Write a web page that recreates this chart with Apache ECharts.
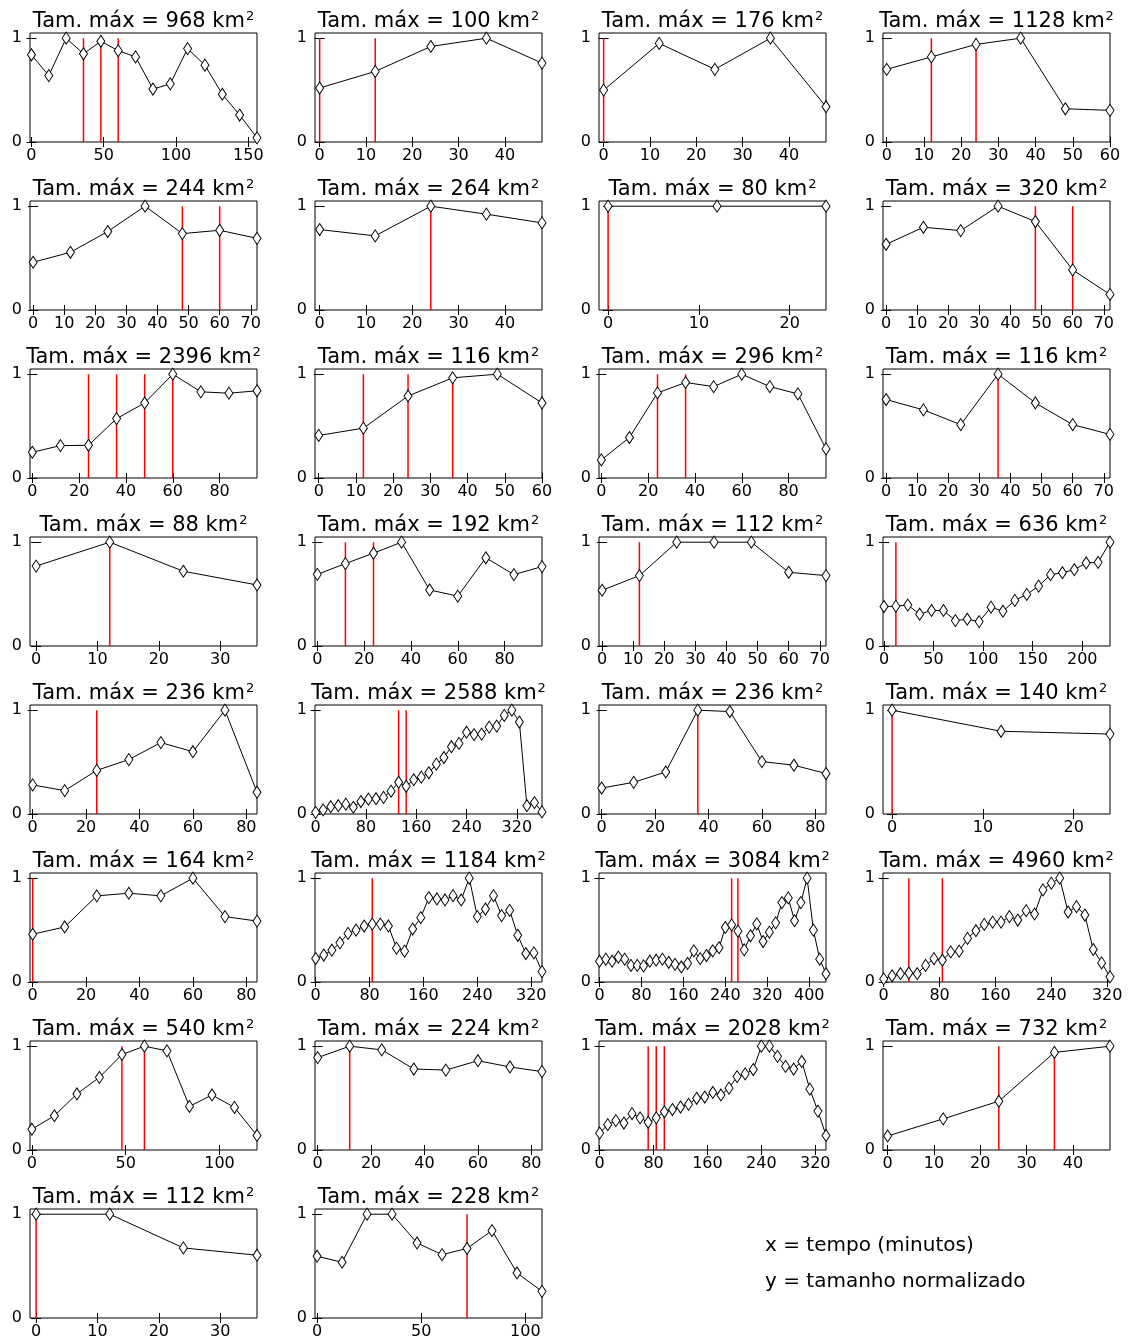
<!DOCTYPE html>
<html><head><meta charset="utf-8">
<script src="https://cdn.jsdelivr.net/npm/echarts@6/dist/echarts.min.js"></script>
<style>html,body{margin:0;padding:0;background:#fff}#c{width:1128px;height:1341px}</style>
</head><body><div id="c"></div>
<script>
// sampling step of the radar images (minutes)
const stepMinutes = 12;
// maximum area of each cluster (km²), panel order left-to-right, top-to-bottom
const areas = [968,100,176,1128, 244,264,80,320, 2396,116,296,116, 88,192,112,636,
               236,2588,236,140, 164,1184,3084,4960, 540,224,2028,732, 112,228];
// normalized size series
const s01 = [0.84,0.64,1.0,0.85,0.97,0.88,0.82,0.51,0.56,0.90,0.74,0.46,0.26,0.04];
const s02 = [0.52,0.68,0.92,1.0,0.76];
const s03 = [0.50,0.95,0.70,1.0,0.34];
const s04 = [0.70,0.82,0.94,1.0,0.32,0.305];
const s05 = [0.46,0.556,0.756,1.0,0.736,0.768,0.69];
const s06 = [0.775,0.714,1.0,0.923,0.839];
const s07 = [1,1,1];
const s08 = [0.633,0.797,0.765,1.0,0.852,0.386,0.15];
const s09 = [0.248,0.312,0.315,0.572,0.723,1.0,0.83,0.817,0.84];
const s10 = [0.41,0.48,0.79,0.965,1.0,0.723];
const s11 = [0.174,0.39,0.82,0.92,0.88,1.0,0.88,0.81,0.28];
const s12 = [0.756,0.656,0.514,1.0,0.723,0.514,0.42];
const s13 = [0.77,1.0,0.72,0.588];
const s14 = [0.69,0.794,0.894,1.0,0.54,0.48,0.85,0.688,0.765];
const s15 = [0.537,0.678,1,1,1,0.71,0.678];
const s16 = [0.38,0.384,0.394,0.306,0.342,0.342,0.245,0.258,0.235,0.374,0.335,0.439,0.497,0.577,0.687,0.706,0.735,0.80,0.806,1.0];
const s17 = [0.28,0.225,0.42,0.524,0.688,0.60,1.0,0.21];
const s18 = [0.016,0.04,0.07,0.08,0.095,0.065,0.12,0.143,0.147,0.16,0.22,0.306,0.267,0.33,0.355,0.397,0.48,0.544,0.648,0.68,0.788,0.765,0.77,0.837,0.847,0.95,1.0,0.886,0.08,0.11,0.02];
const s19 = [0.25,0.305,0.405,1.0,0.987,0.505,0.47,0.39];
const s20 = [1.0,0.797,0.77];
const s21 = [0.46,0.53,0.83,0.855,0.83,1.0,0.63,0.587];
const s22 = [0.226,0.26,0.306,0.377,0.468,0.5,0.539,0.558,0.558,0.54,0.326,0.297,0.51,0.62,0.813,0.8,0.79,0.832,0.79,1.0,0.63,0.703,0.832,0.64,0.69,0.45,0.274,0.28,0.1];
const s23 = [0.2,0.22,0.2,0.24,0.22,0.16,0.16,0.155,0.2,0.21,0.22,0.19,0.17,0.145,0.18,0.3,0.225,0.255,0.3,0.33,0.525,0.55,0.49,0.31,0.445,0.56,0.39,0.48,0.57,0.765,0.81,0.59,0.765,1.0,0.5,0.22,0.08];
const s24 = [0.03,0.06,0.08,0.087,0.08,0.16,0.225,0.21,0.29,0.297,0.42,0.494,0.555,0.577,0.577,0.63,0.597,0.687,0.655,0.887,0.952,1.0,0.674,0.726,0.645,0.313,0.184,0.05];
const s25 = [0.2,0.33,0.54,0.70,0.92,1.0,0.955,0.42,0.53,0.41,0.14];
const s26 = [0.89,1.0,0.965,0.78,0.77,0.86,0.80,0.755];
const s27 = [0.163,0.244,0.283,0.26,0.35,0.31,0.267,0.31,0.368,0.39,0.414,0.44,0.498,0.51,0.554,0.53,0.596,0.707,0.733,0.775,1.0,1.0,0.902,0.805,0.78,0.853,0.586,0.375,0.14];
const s28 = [0.135,0.30,0.47,0.94,1.0];
const s29 = [1.0,1.0,0.675,0.605];
const s30 = [0.595,0.537,1.0,1.0,0.723,0.61,0.67,0.842,0.434,0.257];
const sizeSeries = [s01,s02,s03,s04,s05,s06,s07,s08,s09,s10,s11,s12,s13,s14,s15,s16,s17,s18,s19,s20,s21,s22,s23,s24,s25,s26,s27,s28,s29,s30];
// times (minutes) of the red vertical markers
const redTimes = [[36,48,60],[0,12],[0],[12,24], [48,60],[24],[0],[48,60], [24,36,48,60],[12,24,36],[24,36],[36],
                  [12],[12,24],[12],[12], [24],[132,144],[36],[0], [0],[84],[252,264],[36,84],
                  [48,60],[12],[72,84,96],[24,36], [0],[72]];
// x tick labels
const xTicks = [[0,50,100,150],[0,10,20,30,40],[0,10,20,30,40],[0,10,20,30,40,50,60],
  [0,10,20,30,40,50,60,70],[0,10,20,30,40],[0,10,20],[0,10,20,30,40,50,60,70],
  [0,20,40,60,80],[0,10,20,30,40,50,60],[0,20,40,60,80],[0,10,20,30,40,50,60,70],
  [0,10,20,30],[0,20,40,60,80],[0,10,20,30,40,50,60,70],[0,50,100,150,200],
  [0,20,40,60,80],[0,80,160,240,320],[0,20,40,60,80],[0,10,20],
  [0,20,40,60,80],[0,80,160,240,320],[0,80,160,240,320,400],[0,80,160,240,320],
  [0,50,100],[0,20,40,60,80],[0,80,160,240,320],[0,10,20,30,40],
  [0,10,20,30],[0,50,100]];
const yTicks = [0,1];

const FONT = '"DejaVu Sans", Verdana, sans-serif';
const colLeft = [30,315,599,883];
const W = 227, H = 109, rowStep = 168, top0 = 33;

const grid = [], xAxis = [], yAxis = [], series = [], title = [];
sizeSeries.forEach((vals, i) => {
  const r = Math.floor(i / 4), c = i % 4;
  const left = colLeft[c], top = top0 + rowStep * r;
  const xmax = (vals.length - 1) * stepMinutes;
  grid.push({left, top, width: W, height: H, show: true, borderColor: '#000', borderWidth: 1, backgroundColor: '#fff'});
  const tickCommon = {inside: true, length: 5, lineStyle: {color: '#000', width: 1}};
  xAxis.push({type: 'value', gridIndex: i, min: -1, max: xmax, position: 'bottom',
    axisLine: {show: false}, splitLine: {show: false},
    axisTick: Object.assign({customValues: xTicks[i]}, tickCommon),
    axisLabel: {customValues: xTicks[i], margin: 6, fontSize: 16, color: '#000', fontFamily: FONT}});
  xAxis.push({type: 'value', gridIndex: i, min: -1, max: xmax, position: 'top',
    axisLine: {show: false}, splitLine: {show: false},
    axisTick: Object.assign({customValues: xTicks[i]}, tickCommon),
    axisLabel: {show: false}});
  yAxis.push({type: 'value', gridIndex: i, min: 0, max: 1.05, position: 'left',
    axisLine: {show: false}, splitLine: {show: false},
    axisTick: Object.assign({customValues: yTicks}, tickCommon),
    axisLabel: {customValues: yTicks, margin: 8, fontSize: 16, color: '#000', fontFamily: FONT}});
  yAxis.push({type: 'value', gridIndex: i, min: 0, max: 1.05, position: 'right',
    axisLine: {show: false}, splitLine: {show: false},
    axisTick: Object.assign({customValues: yTicks}, tickCommon),
    axisLabel: {show: false}});
  redTimes[i].forEach(t => {
    series.push({type: 'line', xAxisIndex: 2 * i, yAxisIndex: 2 * i, data: [[t, 0], [t, 1]],
      symbol: 'none', lineStyle: {color: '#ff0000', width: 1.5}, z: 2, silent: true});
  });
  series.push({type: 'line', xAxisIndex: 2 * i, yAxisIndex: 2 * i,
    data: vals.map((v, k) => [k * stepMinutes, v]),
    symbol: 'diamond', symbolSize: [8, 12], showAllSymbol: true,
    itemStyle: {color: '#fff', borderColor: '#000', borderWidth: 1},
    lineStyle: {color: '#000', width: 1}, z: 3, silent: true});
  title.push({text: 'Tam. máx = ' + areas[i] + ' km{s|2}', left: left + W / 2, top: top - 23,
    textAlign: 'center', padding: 0,
    textStyle: {fontSize: 21, fontWeight: 'normal', color: '#000', fontFamily: FONT, lineHeight: 24,
      rich: {s: {fontSize: 13, color: '#000', fontFamily: FONT, verticalAlign: 'top', lineHeight: 16, padding: [0, 0, 0, 1]}}}});
});

const chart = echarts.init(document.getElementById('c'), null, {renderer: 'canvas'});
chart.setOption({
  animation: false,
  backgroundColor: '#fff',
  title, grid, xAxis, yAxis, series,
  graphic: [
    {type: 'text', left: 765, top: 1236, style: {text: 'x = tempo (minutos)', font: '20px ' + FONT, fill: '#000'}},
    {type: 'text', left: 765, top: 1272, style: {text: 'y = tamanho normalizado', font: '20px ' + FONT, fill: '#000'}}
  ]
});
</script></body></html>
